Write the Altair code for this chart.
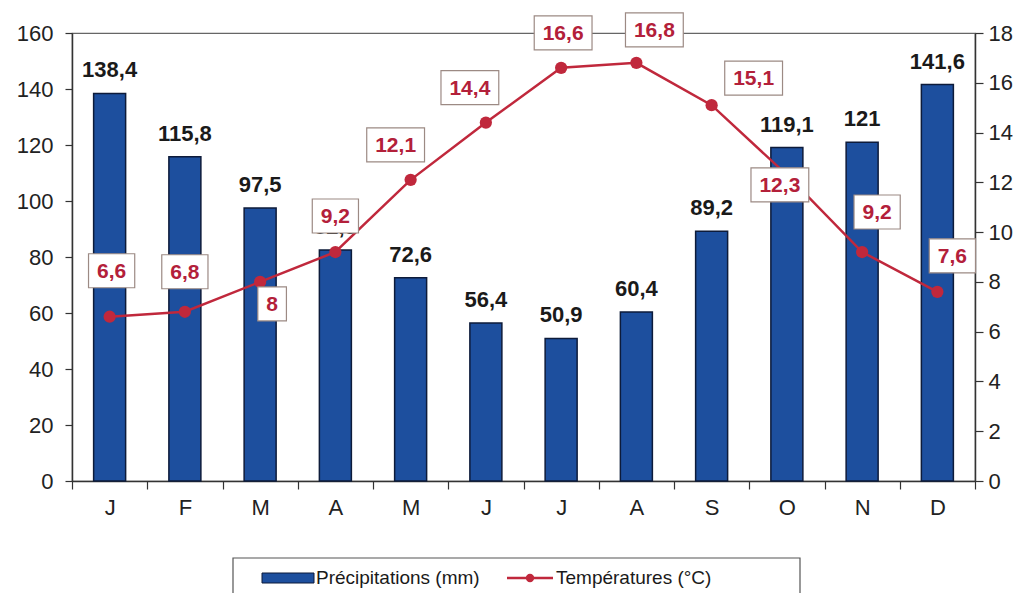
import json
import altair as alt
import pandas as pd

# ---- data ----
months = ["J", "F", "M", "A", "M", "J", "J", "A", "S", "O", "N", "D"]
precip = [138.4, 115.8, 97.5, 82.5, 72.6, 56.4, 50.9, 60.4, 89.2, 119.1, 121, 141.6]
temps = [6.6, 6.8, 8, 9.2, 12.1, 14.4, 16.6, 16.8, 15.1, 12.3, 9.2, 7.6]
legend_labels = ["Précipitations (mm)", "Températures (°C)"]

# label placement offsets (pixels) for the boxed temperature labels
label_dx = [2, 0, 12, 0, -15, -16, 2, 18, 42, -7, 15, 15]
label_dy = [-46, -40, 22, -36, -35, -35, -35, -33, -27, 10, -40, -36]

W, H = 903, 448
T_MAX = 18.0
BAND = W / len(months)


def fr(v):
    return ("%g" % v).replace(".", ",")


def box_path(label, fs=21, pad=17, h=34):
    w = 0
    for ch in label:
        w += 0.278 * fs if ch == "," else 0.556 * fs
    w += pad
    return f"M{-w/2:.1f},{-h/2:.1f}H{w/2:.1f}V{h/2:.1f}H{-w/2:.1f}Z"


idx = list(range(12))
pdf = pd.DataFrame({"idx": idx, "precip": precip, "plabel": [fr(v) for v in precip]})
tdf = pd.DataFrame({
    "idx": idx,
    "temp": temps,
    "tlabel": [fr(v) for v in temps],
    "dx": [d + BAND / 2 for d in label_dx],
})
# vertical label offset expressed on the temperature scale
tdf["tpos"] = [t - d * T_MAX / H for t, d in zip(temps, label_dy)]
tdf["box"] = [box_path(s) for s in tdf["tlabel"]]

FONT = "Liberation Sans"
BLUE = "#1d4f9e"
RED = "#c0283c"
TRED = "#b3203a"

label_expr = json.dumps(months) + "[datum.value]"
x = alt.X(
    "idx:O",
    scale=alt.Scale(paddingInner=0, paddingOuter=0),
    axis=alt.Axis(
        title=None, labelAngle=0, labelExpr=label_expr, tickBand="extent",
        tickSize=8, labelPadding=8, labelFontSize=22,
    ),
)

p_scale = alt.Scale(domain=[0, 160], nice=False)
p_axis = alt.Axis(title=None, values=list(range(0, 161, 20)), grid=False,
                  tickSize=7, labelPadding=12, labelFontSize=22)
t_scale = alt.Scale(domain=[0, 18], nice=False)
t_axis = alt.Axis(title=None, orient="right", values=list(range(0, 19, 2)), grid=False,
                  tickSize=8, labelPadding=5, labelFontSize=22)

bars = alt.Chart(pdf).mark_bar(width=32, fill=BLUE, stroke="#0d1b3a", strokeWidth=1.5).encode(
    x=x, y=alt.Y("precip:Q", scale=p_scale, axis=p_axis))
bar_text = alt.Chart(pdf).mark_text(
    font=FONT, fontSize=22, fontWeight="bold", color="#1a1a1a", baseline="alphabetic", dy=-16
).encode(x=x, y=alt.Y("precip:Q", scale=p_scale, axis=p_axis), text="plabel:N")
bar_group = alt.layer(bars, bar_text)

line = alt.Chart(tdf).mark_line(color=RED, strokeWidth=2.5).encode(
    x=x, y=alt.Y("temp:Q", scale=t_scale, axis=t_axis))
pts = alt.Chart(tdf).mark_circle(color=RED, size=150, opacity=1).encode(
    x=x, y=alt.Y("temp:Q", scale=t_scale, axis=t_axis))
boxes = alt.Chart(tdf).mark_point(
    filled=True, fill="white", stroke="#9c8a84", strokeWidth=1.2, opacity=1, size=4
).encode(
    x=x, y=alt.Y("tpos:Q", scale=t_scale, axis=t_axis),
    xOffset=alt.XOffset("dx:Q", scale=None),
    shape=alt.Shape("box:N", scale=None),
)
tlabels = alt.Chart(tdf).mark_text(
    font=FONT, fontSize=21, fontWeight="bold", color=TRED, baseline="middle", align="center", dy=1
).encode(
    x=x, y=alt.Y("tpos:Q", scale=t_scale, axis=t_axis),
    xOffset=alt.XOffset("dx:Q", scale=None),
    text="tlabel:N",
)
temp_group = alt.layer(line, pts, boxes, tlabels)

# ---- legend (drawn below the plot area) ----
ldf = pd.DataFrame({"label": legend_labels})
one = pd.DataFrame({"k": [0]})
frame = alt.Chart(one).mark_rect(fill="white", stroke="#555", strokeWidth=1.2).encode(
    x=alt.value(161), x2=alt.value(728), y=alt.value(525), y2=alt.value(600))
swatch = alt.Chart(one).mark_rect(fill=BLUE, stroke="#0d1b3a", strokeWidth=1).encode(
    x=alt.value(190), x2=alt.value(242), y=alt.value(540), y2=alt.value(550))
lrule = alt.Chart(one).mark_rule(color=RED, strokeWidth=2.5).encode(
    x=alt.value(435), x2=alt.value(481), y=alt.value(545))
ldot = alt.Chart(one).mark_circle(color=RED, size=70, opacity=1).encode(
    x=alt.value(458), y=alt.value(545))
ltext1 = alt.Chart(ldf.iloc[[0]]).mark_text(
    font=FONT, fontSize=19, color="#1a1a1a", align="left", baseline="middle").encode(
    x=alt.value(244), y=alt.value(545), text="label:N")
ltext2 = alt.Chart(ldf.iloc[[1]]).mark_text(
    font=FONT, fontSize=19, color="#1a1a1a", align="left", baseline="middle").encode(
    x=alt.value(484), y=alt.value(545), text="label:N")

chart = alt.layer(
    bar_group, temp_group, frame, swatch, lrule, ldot, ltext1, ltext2
).resolve_scale(y="independent").properties(
    width=W, height=H,
    padding={"left": 64, "top": 25, "right": 41, "bottom": 112},
    autosize=alt.AutoSizeParams(type="none"),
    background="white",
).configure_view(
    stroke="#666", strokeWidth=1.2
).configure_axis(
    labelFont=FONT, labelColor="#222", domainColor="#333", tickColor="#333",
    domainWidth=1.5, tickWidth=1.2,
)

chart.save("out.html", embed_options={"renderer": "svg", "actions": False})
